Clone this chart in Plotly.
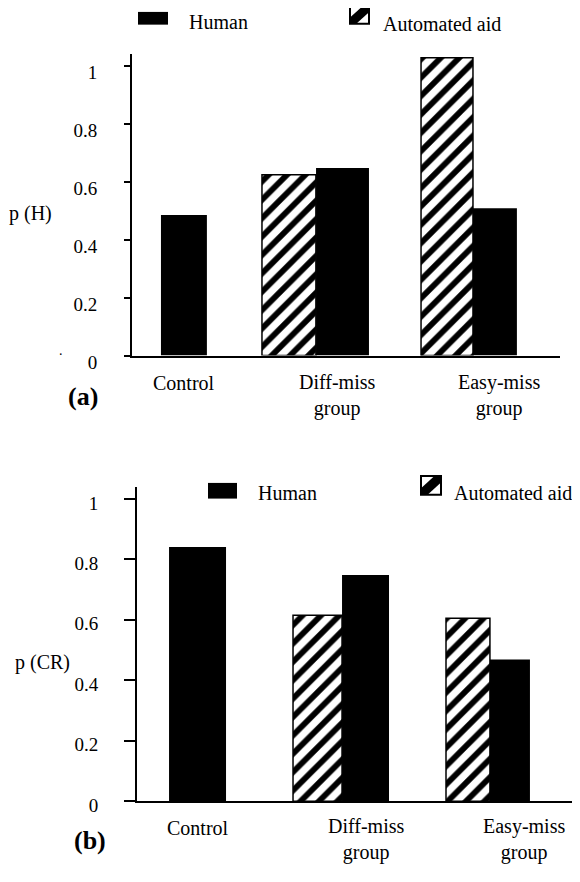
import plotly.graph_objects as go

# ---------------- data ----------------
categories = ["Control", "Diff-miss group", "Easy-miss group"]
cat_labels = ["Control", "Diff-miss<br>group", "Easy-miss<br>group"]

hit_human = [0.485, 0.647, 0.508]
hit_aid = [None, 0.624, 1.027]

cr_human = [0.841, 0.748, 0.469]
cr_aid = [None, 0.615, 0.605]

y_ticks = [0, 0.2, 0.4, 0.6, 0.8, 1]
y_ticktext_a = ["0", "0.2", "0.4", "0.6", "0.8", "1"]
y_ticktext_b = ["0", "0.2", "0.4", "0.6", "0.8", "1"]

# ---------------- layout helpers ----------------
# the page body keeps its default 8px margin, so the figure is 16px smaller
PAGE_MARGIN = 8
W, H = 580 - 2 * PAGE_MARGIN, 882 - 2 * PAGE_MARGIN
def px(x):
    return (x - PAGE_MARGIN) / W
def py(y):
    return 1 - (y - PAGE_MARGIN) / H

FONT = "Liberation Serif"

# per-bar placement (category units, axis range [-0.5, 2.5])
a_h_off = [-0.297, -0.210, -0.110]
a_h_w = [0.322, 0.371, 0.308]
a_a_off = [0, -0.589, -0.474]
a_a_w = [0.3, 0.378, 0.364]

b_h_off = [-0.279, -0.086, -0.066]
b_h_w = [0.393, 0.324, 0.276]
b_a_off = [0, -0.424, -0.369]
b_a_w = [0.3, 0.338, 0.303]

pattern = dict(shape="/", fgcolor="black", bgcolor="white", fgopacity=1,
               size=13, solidity=0.45, fillmode="replace")

fig = go.Figure()

fig.add_trace(go.Bar(x=categories, y=hit_human, name="Human", offset=a_h_off, width=a_h_w,
                     marker=dict(color="black", line=dict(width=0)), opacity=1,
                     xaxis="x", yaxis="y", showlegend=False))
fig.add_trace(go.Bar(x=categories, y=hit_aid, name="Automated aid", offset=a_a_off, width=a_a_w,
                     marker=dict(color="white", pattern=pattern, line=dict(color="black", width=1.5)),
                     opacity=1, xaxis="x", yaxis="y", showlegend=False))
fig.add_trace(go.Bar(x=categories, y=cr_human, name="Human", offset=b_h_off, width=b_h_w,
                     marker=dict(color="black", line=dict(width=0)), opacity=1,
                     xaxis="x2", yaxis="y2", showlegend=False))
fig.add_trace(go.Bar(x=categories, y=cr_aid, name="Automated aid", offset=b_a_off, width=b_a_w,
                     marker=dict(color="white", pattern=pattern, line=dict(color="black", width=1.5)),
                     opacity=1, xaxis="x2", yaxis="y2", showlegend=False))

xcommon = dict(type="category", range=[-0.5, 2.5], showline=True, linecolor="black", linewidth=2,
               showticklabels=False, ticks="", showgrid=False, zeroline=False)
ycommon = dict(range=[0, 1.04], showline=True, linecolor="black", linewidth=2, ticks="outside",
               tickcolor="black", tickwidth=2, tickvals=y_ticks, showgrid=False, zeroline=False,
               tickfont=dict(family=FONT, size=19, color="black"))

fig.update_layout(
    width=W, height=H,
    margin=dict(l=0, r=0, t=0, b=0),
    paper_bgcolor="white", plot_bgcolor="white",
    barmode="overlay",
    font=dict(family=FONT, color="black"),
    xaxis=dict(xcommon, domain=[px(132), px(560)], anchor="y"),
    yaxis=dict(ycommon, domain=[py(363), py(55)], anchor="x", ticklen=6,
               ticktext=y_ticktext_a, ticklabelstandoff=23, ticklabelshift=7),
    xaxis2=dict(xcommon, domain=[px(137), px(572)], anchor="y2"),
    yaxis2=dict(ycommon, domain=[py(818), py(497)], anchor="x2", ticklen=11,
                ticktext=y_ticktext_b, ticklabelstandoff=22, ticklabelshift=4),
)

ann = []
def text(x, y, s, size=20, bold=False, xanchor="center"):
    if bold:
        s = "<b>" + s + "</b>"
    ann.append(dict(x=px(x), y=py(y), xref="paper", yref="paper", text=s, showarrow=False,
                    xanchor=xanchor, yanchor="middle",
                    font=dict(family=FONT, size=size, color="black")))

# panel (a) text
text(30, 218, "p (H)")
text(61, 358, ".", size=14)
text(184, 391, cat_labels[0])
text(337, 404, cat_labels[1])
text(499, 404, cat_labels[2])
text(83, 405, "(a)", size=26, bold=True)
text(187, 22, "Human", xanchor="left")
text(381, 24, "Automated aid", xanchor="left")

# panel (b) text
text(42, 676, "p (CR)")
text(198, 845, cat_labels[0])
text(366, 857, cat_labels[1])
text(524, 857, cat_labels[2])
text(90, 858, "(b)", size=26, bold=True)
text(256, 503, "Human", xanchor="left")
text(452, 503, "Automated aid", xanchor="left")

fig.update_layout(annotations=ann)

# legend swatches
shapes = []
def rect_black(x0, y0, x1, y1):
    shapes.append(dict(type="rect", xref="paper", yref="paper", x0=px(x0), x1=px(x1),
                       y0=py(y1), y1=py(y0), fillcolor="black", line=dict(width=0)))

def hatch_box(x0, y0, x1, y1):
    d = 0.33 * (x1 - x0)
    pts = [(x0, y1), (x0, y1 - d), (x1 - d, y0), (x1, y0), (x1, y0 + d), (x0 + d, y1)]
    path = "M " + " L ".join(f"{px(a):.5f},{py(b):.5f}" for a, b in pts) + " Z"
    shapes.append(dict(type="path", xref="paper", yref="paper", path=path,
                       fillcolor="black", line=dict(width=0)))
    shapes.append(dict(type="rect", xref="paper", yref="paper", x0=px(x0), x1=px(x1),
                       y0=py(y1), y1=py(y0), fillcolor="rgba(0,0,0,0)",
                       line=dict(color="black", width=2)))

rect_black(138, 12, 168, 25)
hatch_box(350, 6, 369, 24)
rect_black(208, 493, 237, 509)
hatch_box(421, 486, 441, 505)

fig.update_layout(shapes=shapes)

fig.write_html("out.html", config={"displayModeBar": False})
